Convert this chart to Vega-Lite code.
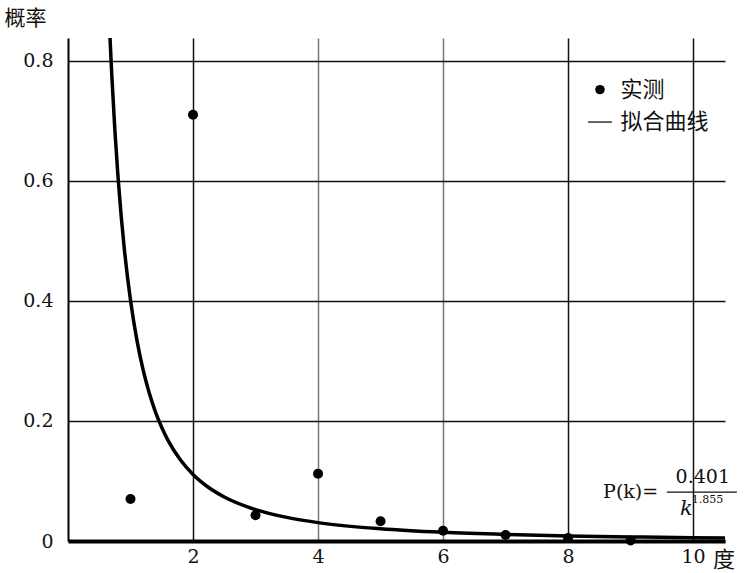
{
  "$schema": "https://vega.github.io/schema/vega-lite/v6.json",
  "width": 657,
  "height": 503,
  "autosize": "none",
  "padding": {"left": 68, "top": 38, "right": 28, "bottom": 32},
  "background": "white",
  "config": {
    "view": {"stroke": null},
    "axis": {"gridColor": "#111", "gridWidth": 1.5, "gridOpacity": 1, "domainColor": "#000", "ticks": false, "labelFont": "DejaVu Serif", "labelFontSize": 19, "labelColor": "#111"}
  },
  "datasets": {
    "curve": [
      {"x": 0.67, "y": 0.843}, {"x": 0.7, "y": 0.777}, {"x": 0.75, "y": 0.684}, {"x": 0.8, "y": 0.6066},
      {"x": 0.85, "y": 0.5421}, {"x": 0.9, "y": 0.4875}, {"x": 1.0, "y": 0.401}, {"x": 1.1, "y": 0.336},
      {"x": 1.2, "y": 0.2859}, {"x": 1.3, "y": 0.2465}, {"x": 1.4, "y": 0.2148}, {"x": 1.5, "y": 0.189},
      {"x": 1.6, "y": 0.1677}, {"x": 1.8, "y": 0.1348}, {"x": 2.0, "y": 0.1108}, {"x": 2.25, "y": 0.0891},
      {"x": 2.5, "y": 0.0733}, {"x": 3.0, "y": 0.0523}, {"x": 3.5, "y": 0.0393}, {"x": 4.0, "y": 0.0306},
      {"x": 5.0, "y": 0.0203}, {"x": 6.0, "y": 0.0144}, {"x": 7.0, "y": 0.01085}, {"x": 8.0, "y": 0.00847},
      {"x": 9.0, "y": 0.00681}, {"x": 10.0, "y": 0.0056}, {"x": 10.51, "y": 0.0051}
    ],
    "pts": [
      {"x": 1, "y": 0.07}, {"x": 2, "y": 0.71}, {"x": 3, "y": 0.043}, {"x": 4, "y": 0.112},
      {"x": 5, "y": 0.033}, {"x": 6, "y": 0.017}, {"x": 7, "y": 0.01}, {"x": 8, "y": 0.005}, {"x": 9, "y": 0.001}
    ]
  },
  "encoding": {
    "x": {"field": "x", "type": "quantitative", "scale": {"domain": [0, 10.51], "nice": false, "zero": false}},
    "y": {"field": "y", "type": "quantitative", "scale": {"domain": [0, 0.838], "nice": false, "zero": false}}
  },
  "layer": [
    {
      "data": {"name": "curve"},
      "mark": {"type": "line", "color": "#000", "strokeWidth": 3.5, "clip": true, "interpolate": "monotone"},
      "encoding": {
        "x": {"field": "x", "type": "quantitative", "axis": {"values": [2, 4, 6, 8, 10], "format": "d", "title": null, "domainWidth": 4, "labelPadding": 6, "grid": true, "gridColor": {"condition": {"test": "datum.value == 4 || datum.value == 6", "value": "#777"}, "value": "#111"}}},
        "y": {"field": "y", "type": "quantitative", "axis": {"values": [0, 0.2, 0.4, 0.6, 0.8], "title": "概率", "titleAngle": 0, "titleX": -43, "titleY": -20, "titleAlign": "center", "titleBaseline": "middle", "titleFont": "Noto Sans CJK SC", "titleFontSize": 21, "titleFontWeight": "normal", "titleColor": "#111", "domainWidth": 2, "labelPadding": 15, "grid": true, "labelExpr": "datum.value == 0 ? '0' : format(datum.value, '.1f')"}}
      }
    },
    {
      "data": {"name": "pts"},
      "mark": {"type": "circle", "color": "#000", "size": 100, "opacity": 1}
    },
    {
      "data": {"values": [{"x": 8.51, "y": 0.752}]},
      "mark": {"type": "circle", "color": "#000", "size": 90, "opacity": 1}
    },
    {
      "data": {"values": [{"x": 8.84, "y": 0.752, "t": "实测"}, {"x": 8.84, "y": 0.698, "t": "拟合曲线"}]},
      "mark": {"type": "text", "align": "left", "baseline": "middle", "font": "Noto Sans CJK SC", "fontSize": 22, "color": "#111"},
      "encoding": {"text": {"field": "t"}}
    },
    {
      "data": {"values": [{"x": 8.32, "x2": 8.7, "y": 0.698}]},
      "mark": {"type": "rule", "color": "#111", "strokeWidth": 1.3},
      "encoding": {"x2": {"field": "x2"}}
    },
    {
      "data": {"values": [{"x": 10.32, "y": -0.031, "t": "度"}]},
      "mark": {"type": "text", "align": "left", "baseline": "middle", "font": "Noto Sans CJK SC", "fontSize": 22, "color": "#111"},
      "encoding": {"text": {"field": "t"}}
    },
    {
      "data": {"values": [{"x": 8.56, "y": 0.082, "t": "P(k)="}, {"x": 9.72, "y": 0.106, "t": "0.401"}]},
      "mark": {"type": "text", "align": "left", "baseline": "middle", "font": "DejaVu Serif", "fontSize": 19, "color": "#111"},
      "encoding": {"text": {"field": "t"}}
    },
    {
      "data": {"values": [{"x": 9.79, "y": 0.054, "t": "k"}]},
      "mark": {"type": "text", "align": "left", "baseline": "middle", "font": "DejaVu Serif", "fontSize": 21, "fontStyle": "italic", "color": "#111"},
      "encoding": {"text": {"field": "t"}}
    },
    {
      "data": {"values": [{"x": 9.98, "y": 0.068, "t": "1.855"}]},
      "mark": {"type": "text", "align": "left", "baseline": "middle", "font": "DejaVu Serif", "fontSize": 11, "color": "#111"},
      "encoding": {"text": {"field": "t"}}
    },
    {
      "data": {"values": [{"x": 9.58, "x2": 10.7, "y": 0.0815}]},
      "mark": {"type": "rule", "color": "#111", "strokeWidth": 1.3},
      "encoding": {"x2": {"field": "x2"}}
    }
  ]
}
